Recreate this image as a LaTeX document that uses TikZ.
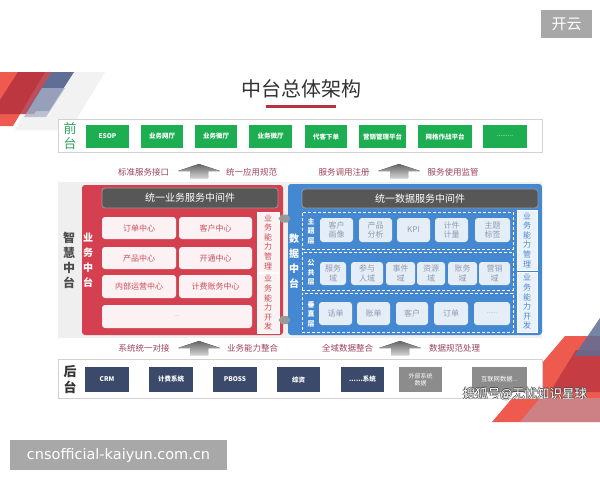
\documentclass[tikz,border=0pt]{standalone}
\usepackage{fontspec}
\setmainfont{Noto Sans CJK SC}
\newfontfamily\urlfont{DejaVu Sans}
\definecolor{cgreen}{HTML}{1DAE52}
\definecolor{cgreentxt}{HTML}{2EA35A}
\definecolor{cnavy}{HTML}{3B4A6B}
\definecolor{cgreybox}{HTML}{8C8C8C}
\definecolor{cred}{HTML}{D4404F}
\definecolor{cblue}{HTML}{4388D0}
\definecolor{chdr}{HTML}{575757}
\definecolor{chdrb}{HTML}{9A9A9A}
\definecolor{crwhite}{HTML}{FCF2F3}
\definecolor{crtext}{HTML}{C94E5C}
\definecolor{cbwhite}{HTML}{E5EDF7}
\definecolor{cbtext}{HTML}{8C9CB2}
\definecolor{cbcol}{HTML}{E9F1FA}
\definecolor{cbcoltxt}{HTML}{4F88C8}
\definecolor{cmaroon}{HTML}{9C4458}
\definecolor{cpanel}{HTML}{EFEFEF}
\definecolor{cline}{HTML}{D2D2D2}
\definecolor{cbadge}{HTML}{A8A8A8}
\definecolor{cdeco1}{HTML}{EE5A4E}
\definecolor{cdeco2}{HTML}{B5323F}
\definecolor{cdeco3}{HTML}{5E6E96}
\definecolor{cdeco4}{HTML}{A9B1C8}
\tikzset{
  gbox/.style={fill=cgreen, text=white, font=\fontsize{6.5}{8}\selectfont\bfseries, minimum height=23pt, inner sep=0pt},
  nbox/.style={fill=cnavy, text=white, font=\fontsize{6.5}{8}\selectfont\bfseries, minimum height=25pt, inner sep=0pt, align=center},
  grbox/.style={fill=cgreybox, text=white, font=\fontsize{6.3}{8}\selectfont, minimum height=25pt, inner sep=0pt, align=center},
  rbox/.style={fill=crwhite, rounded corners=3pt, text=crtext, font=\fontsize{8}{10}\selectfont, inner sep=0pt},
  bbox/.style={fill=cbwhite, rounded corners=3pt, text=cbtext, font=\fontsize{8}{9.5}\selectfont, align=center, inner sep=0pt},
  hdr/.style={fill=chdr, draw=chdrb, line width=0.8pt, rounded corners=3pt, text=white, font=\fontsize{10}{12}\selectfont, inner sep=0pt},
  rcol/.style={fill=crwhite, draw=white, line width=0.6pt, text=crtext, font=\fontsize{8}{9.6}\selectfont, align=center, inner sep=0pt, minimum width=22pt, minimum height=60pt},
  bcol/.style={fill=cbcol, draw=white, line width=0.6pt, text=cbcoltxt, font=\fontsize{8}{9.6}\selectfont, align=center, inner sep=0pt, minimum width=20pt, minimum height=60pt},
  vlab/.style={text=white, font=\fontsize{10}{15}\selectfont\bfseries, align=center, inner sep=0pt},
  laylab/.style={text=white, font=\fontsize{7}{9.6}\selectfont\bfseries, align=center, inner sep=0pt},
  dashrow/.style={draw=white, dashed, dash pattern=on 3pt off 2pt, line width=0.8pt, inner sep=0pt, minimum width=211pt},
  rowtxt/.style={text=cmaroon, font=\fontsize{8.5}{10}\selectfont, inner sep=0pt},
  outline/.style={draw=cline, fill=white, line width=0.8pt, minimum width=484pt, inner sep=0pt},
  grarrow/.style={top color=black!60, bottom color=black!18, draw=none},
}
\begin{document}
\begin{tikzpicture}[x=1pt,y=-1pt]
\useasboundingbox (0,0) rectangle (600,480);
\fill[white] (0,0) rectangle (600,480);

% top-left decoration
\fill[black!5] (45,72) -- (105,72) -- (70,130) -- (15,130) -- cycle;
\fill[cdeco1] (0,72) -- (45,72) -- (13,126) -- (0,126) -- cycle;
\fill[cdeco2, opacity=0.85] (18,72) -- (60,72) -- (34,114) -- (0,114) -- (0,100) -- cycle;
\fill[cdeco3] (52,72) -- (74,72) -- (49,111) -- (27,111) -- cycle;
\fill[cdeco4, opacity=0.75] (42,88) -- (65,88) -- (46,117) -- (24,117) -- cycle;

% bottom-right decoration
\fill[cdeco1] (565,336) -- (600,336) -- (600,422) -- (492,422) -- cycle;
\fill[cdeco2, opacity=0.7] (576,350) -- (600,350) -- (600,392) -- (550,392) -- cycle;
\fill[cdeco3, opacity=0.85] (600,318) -- (574,356) -- (600,356) -- cycle;
\fill[cdeco4, opacity=0.45] (540,398) -- (600,398) -- (600,422) -- (520,422) -- cycle;

% badges
\node[fill=cbadge, text=white, font=\fontsize{15}{18}\selectfont, minimum width=51pt, minimum height=28pt, inner sep=0pt] (kaiyun) at (566.5,24) {开云};
\node[fill=cbadge, text=white, font=\urlfont\fontsize{14.5}{17}\selectfont, minimum width=217pt, minimum height=30pt, inner sep=0pt] (url) at (118.5,455) {cnsofficial-kaiyun.com.cn};

% title
\node[text=black!80, font=\fontsize{20}{24}\selectfont, inner sep=0pt] (title) at (301,89) {中台总体架构};
\coordinate (ulA) at (266,106);
\coordinate (ulB) at (336,106);
\draw[line width=3pt, cdeco2] (ulA) -- (ulB);

% front row
\node[outline, minimum height=33pt] (front) at (300,135.5) {};
\node[text=cgreentxt, font=\fontsize{13}{15}\selectfont, align=center, inner sep=0pt] (frontlab) at (70,136.5) {前\\台};
\node[gbox, minimum width=43pt] (f1) at (107.5,136.5) {ESOP};
\node[gbox, minimum width=42pt] (f2) at (162,136.5) {业务网厅};
\node[gbox, minimum width=42pt] (f3) at (216,136.5) {业务微厅};
\node[gbox, minimum width=43pt] (f4) at (270.5,136.5) {业务微厅};
\node[gbox, minimum width=42pt] (f5) at (326,136.5) {代客下单};
\node[gbox, minimum width=47pt] (f6) at (382.5,136.5) {营销管理平台};
\node[gbox, minimum width=54pt] (f7) at (445,136.5) {网格作战平台};
\node[gbox, minimum width=44pt, font=\fontsize{6.5}{8}\selectfont] (f8) at (505,136.5) {\raisebox{1pt}{.........}};

% arrow row 1
\node[rowtxt] (t1) at (143.5,172) {标准服务接口};
\node[rowtxt] (t2) at (251.5,172) {统一应用规范};
\node[rowtxt] (t3) at (344,172) {服务调用注册};
\node[rowtxt] (t4) at (453,172) {服务使用监管};
\fill[grarrow, shift={(199,164)}] (0,0) -- (21,7) -- (9,7) -- (9,14) -- (-9,14) -- (-9,7) -- (-21,7) -- cycle;
\fill[grarrow, shift={(399,164)}] (0,0) -- (21,7) -- (9,7) -- (9,14) -- (-9,14) -- (-9,7) -- (-21,7) -- cycle;

% middle panel
\node[fill=cpanel, minimum width=484pt, minimum height=156pt, inner sep=0pt] (midpanel) at (300,260) {};
\node[text=black!70, font=\fontsize{12}{15}\selectfont\bfseries, align=center, inner sep=0pt] (zhlab) at (69,260.5) {智\\慧\\中\\台};

% red business middle platform
\node[fill=cred, rounded corners=3pt, minimum width=201pt, minimum height=150pt, inner sep=0pt] (redp) at (182.5,260) {};
\node[hdr, minimum width=176pt, minimum height=20pt] (rhdr) at (190,198) {统一业务服务中间件};
\node[vlab] (ywlab) at (88,260.5) {业\\务\\中\\台};
\node[rbox, minimum width=74pt, minimum height=22pt] (r1) at (139,228) {订单中心};
\node[rbox, minimum width=73pt, minimum height=22pt] (r2) at (215.5,228) {客户中心};
\node[rbox, minimum width=74pt, minimum height=22pt] (r3) at (139,258) {产品中心};
\node[rbox, minimum width=73pt, minimum height=22pt] (r4) at (215.5,258) {开通中心};
\node[rbox, minimum width=74pt, minimum height=23pt] (r5) at (139,286.5) {内部运营中心};
\node[rbox, minimum width=73pt, minimum height=23pt] (r6) at (215.5,286.5) {计费账务中心};
\node[rbox, minimum width=150pt, minimum height=23pt, font=\fontsize{6}{8}\selectfont, text=black!35] (r7) at (177,316.5) {...};
\node[rcol] (rc1) at (268,242) {业\\务\\能\\力\\管\\理};
\node[rcol] (rc2) at (268,303) {业\\务\\能\\力\\开\\发};

% blue data middle platform
\node[fill=cblue, rounded corners=3pt, minimum width=254pt, minimum height=151pt, inner sep=0pt] (bluep) at (415,259.5) {};
\node[hdr, minimum width=236pt, minimum height=19pt] (bhdr) at (420,198.5) {统一数据服务中间件};
\node[vlab] (sjlab) at (294,261.5) {数\\据\\中\\台};
\node[dashrow, minimum height=37pt] (row1) at (407.5,230.5) {};
\node[dashrow, minimum height=38pt] (row2) at (407.5,271) {};
\node[dashrow, minimum height=39pt] (row3) at (407.5,312.5) {};
\node[laylab] (l1) at (311,231) {主\\题\\层};
\node[laylab] (l2) at (311,272.5) {公\\共\\层};
\node[laylab] (l3) at (311,314) {垂\\直\\层};
\node[bbox, minimum width=33pt, minimum height=24pt] (b11) at (336.5,230) {客户\\画像};
\node[bbox, minimum width=33pt, minimum height=24pt] (b12) at (375.5,230) {产品\\分析};
\node[bbox, minimum width=33pt, minimum height=24pt] (b13) at (413.5,230) {KPI};
\node[bbox, minimum width=33pt, minimum height=24pt] (b14) at (451.5,230) {计件\\计量};
\node[bbox, minimum width=35pt, minimum height=24pt] (b15) at (492.5,230) {主题\\标签};
\node[bbox, minimum width=26pt, minimum height=23pt] (b21) at (333,273.5) {服务\\域};
\node[bbox, minimum width=32pt, minimum height=23pt] (b22) at (367,273.5) {参与\\人域};
\node[bbox, minimum width=29pt, minimum height=23pt] (b23) at (400.5,273.5) {事件\\域};
\node[bbox, minimum width=28pt, minimum height=23pt] (b24) at (431,273.5) {资源\\域};
\node[bbox, minimum width=29pt, minimum height=23pt] (b25) at (462.5,273.5) {账务\\域};
\node[bbox, minimum width=31pt, minimum height=23pt] (b26) at (494.5,273.5) {营销\\域};
\node[bbox, minimum width=33pt, minimum height=23pt] (b31) at (335.5,313.5) {话单};
\node[bbox, minimum width=33pt, minimum height=23pt] (b32) at (373.5,313.5) {账单};
\node[bbox, minimum width=32pt, minimum height=23pt] (b33) at (412,313.5) {客户};
\node[bbox, minimum width=34pt, minimum height=23pt] (b34) at (451,313.5) {订单};
\node[bbox, minimum width=36pt, minimum height=23pt, font=\fontsize{6}{8}\selectfont] (b35) at (492,313.5) {......};
\node[bcol] (bc1) at (527,240) {业\\务\\能\\力\\管\\理};
\node[bcol] (bc2) at (527,302) {业\\务\\能\\力\\开\\发};

% connectors between the two platforms
\fill[black!40, shift={(284.5,218.5)}] (-6,0) -- (-3,-4) -- (3,-4) -- (6,0) -- (3,4) -- (-3,4) -- cycle;
\fill[black!40, shift={(284.5,320)}] (-6,0) -- (-3,-4) -- (3,-4) -- (6,0) -- (3,4) -- (-3,4) -- cycle;

% arrow row 2
\node[rowtxt] (t5) at (144,348) {系统统一对接};
\node[rowtxt] (t6) at (252.5,348) {业务能力整合};
\node[rowtxt] (t7) at (347.5,348) {全域数据整合};
\node[rowtxt] (t8) at (454.5,348) {数据规范处理};
\fill[grarrow, shift={(199,341)}] (0,0) -- (21,7) -- (9,7) -- (9,14) -- (-9,14) -- (-9,7) -- (-21,7) -- cycle;
\fill[grarrow, shift={(400,341)}] (0,0) -- (21,7) -- (9,7) -- (9,14) -- (-9,14) -- (-9,7) -- (-21,7) -- cycle;

% back row
\node[outline, minimum height=39pt] (back) at (300,378.5) {};
\node[text=black!80, font=\fontsize{13}{16}\selectfont\bfseries, align=center, inner sep=0pt] (backlab) at (70,379.5) {后\\台};
\node[nbox, minimum width=44pt] (k1) at (107,379.5) {CRM};
\node[nbox, minimum width=44pt] (k2) at (171,379.5) {计费系统};
\node[nbox, minimum width=44pt] (k3) at (235,379.5) {PBOSS};
\node[nbox, minimum width=43pt] (k4) at (298.5,379.5) {综资};
\node[nbox, minimum width=43pt] (k5) at (362.5,379.5) {......系统};
\node[grbox, minimum width=43pt, font=\fontsize{6}{7.5}\selectfont] (k6) at (420.5,379.5) {外部系统\\数据};
\node[grbox, minimum width=55pt] (k7) at (499.5,379.5) {互联网数据...};

% watermark
\foreach \dx/\dy in {-0.6/0,0.6/0,0/-0.6,0/0.6}
  \node[text=black!70, font=\fontsize{12.5}{15}\selectfont, inner sep=0pt] at (525+\dx,394+\dy) {搜狐号@无忧知识星球};
\node[text=white, font=\fontsize{12.5}{15}\selectfont, inner sep=0pt] (wm) at (525,394) {搜狐号@无忧知识星球};
\end{tikzpicture}
\end{document}
